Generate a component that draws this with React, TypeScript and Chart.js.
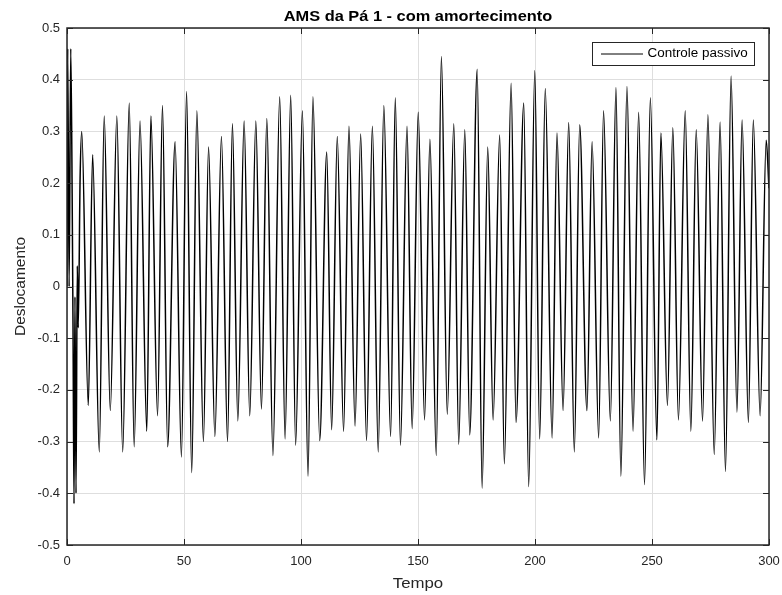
import { useEffect, useRef } from 'react';
import { Chart, registerables } from 'chart.js';

Chart.register(...registerables);

// ---- data ----
const startTimes = [0, 0.3, 0.9, 1.6, 2.2, 2.6, 3.0, 3.4, 3.85, 4.4, 4.8, 5.6];
const startValues = [0, 0.46, 0.0, 0.46, 0.18, -0.1, -0.42, -0.02, -0.4, 0.04, -0.08, 0.21];

const peakTimes = [
  6.3, 10.95, 15.9, 21.3, 26.6, 31.2, 35.85, 40.8, 46.2, 51.1, 55.5, 60.5, 66.0, 70.7,
  75.7, 80.7, 85.4, 90.9, 95.6, 100.6, 105.1, 111.0, 115.5, 120.5, 125.5, 130.5, 135.4,
  140.3, 145.3, 150.1, 155.1, 160.0, 165.3, 170.0, 175.3, 179.8, 184.9, 189.8, 195.2,
  199.9, 204.4, 209.4, 214.4, 219.1, 224.4, 229.3, 234.6, 239.3, 244.3, 249.3, 253.8,
  258.9, 264.2, 268.9, 273.9, 279.1, 283.8, 288.5, 293.3, 298.8,
];
const peakValues = [
  0.3, 0.255, 0.33, 0.33, 0.355, 0.32, 0.33, 0.35, 0.28, 0.377, 0.34, 0.27, 0.29, 0.315,
  0.32, 0.32, 0.325, 0.367, 0.37, 0.34, 0.367, 0.26, 0.29, 0.31, 0.295, 0.31, 0.35,
  0.365, 0.31, 0.337, 0.285, 0.445, 0.315, 0.303, 0.42, 0.27, 0.293, 0.393, 0.355,
  0.418, 0.383, 0.297, 0.317, 0.313, 0.28, 0.34, 0.385, 0.387, 0.337, 0.365, 0.297,
  0.307, 0.34, 0.303, 0.332, 0.318, 0.407, 0.322, 0.322, 0.283,
];

const troughTimes = [
  9.1, 13.8, 18.5, 23.8, 28.7, 34.1, 38.7, 43.0, 48.9, 53.3, 58.3, 63.2, 68.6, 73.0,
  78.1, 83.1, 88.0, 93.2, 97.7, 103.0, 108.0, 113.1, 118.2, 123.1, 128.0, 133.0, 138.3,
  142.5, 147.5, 152.8, 157.8, 162.5, 167.4, 172.1, 177.4, 182.1, 186.9, 191.9, 197.3,
  202.0, 207.3, 212.0, 216.8, 222.2, 227.2, 232.2, 236.7, 241.9, 246.8, 252.1, 256.6,
  261.3, 266.6, 271.6, 276.6, 281.4, 286.3, 291.2, 296.2,
];
const troughValues = [
  -0.23, -0.32, -0.24, -0.32, -0.31, -0.28, -0.25, -0.31, -0.33, -0.36, -0.3, -0.29, -0.3, -0.26,
  -0.25, -0.237, -0.327, -0.295, -0.307, -0.367, -0.298, -0.277, -0.28, -0.27, -0.298, -0.32, -0.29,
  -0.307, -0.275, -0.258, -0.327, -0.247, -0.305, -0.287, -0.39, -0.258, -0.343, -0.263, -0.387,
  -0.295, -0.293, -0.24, -0.32, -0.24, -0.293, -0.26, -0.367, -0.28, -0.383, -0.297, -0.23,
  -0.258, -0.28, -0.26, -0.325, -0.358, -0.243, -0.263, -0.25,
];

const endTimes = [300];
const endValues = [0.19];

const xTickValues = [0, 50, 100, 150, 200, 250, 300];
const yTickValues = [-0.5, -0.4, -0.3, -0.2, -0.1, 0, 0.1, 0.2, 0.3, 0.4, 0.5];

const titleText = 'AMS da Pá 1 - com amortecimento';
const xLabel = 'Tempo';
const yLabel = 'Deslocamento';
const seriesLabel = 'Controle passivo';

const FONT = '"Liberation Sans", Arial, Helvetica, sans-serif';
const AXIS_COLOR = '#262626';

function buildPoints() {
  const pts: { x: number; y: number }[] = [];
  const add = (ts: number[], vs: number[]) => ts.forEach((t, i) => pts.push({ x: t, y: vs[i] }));
  add(startTimes, startValues);
  add(peakTimes, peakValues);
  add(troughTimes, troughValues);
  add(endTimes, endValues);
  pts.sort((a, b) => a.x - b.x);
  return pts;
}

function stretchedText(ctx: CanvasRenderingContext2D, text: string, x: number, y: number, sx: number) {
  ctx.save();
  ctx.translate(x, y);
  ctx.scale(sx, 1);
  ctx.fillText(text, 0, 0);
  ctx.restore();
}

const decorPlugin = {
  id: 'matlabDecor',
  afterDraw(chart: any) {
    const { ctx, chartArea, scales } = chart;
    const { left, right, top, bottom } = chartArea;
    const xs = scales.x;
    const ys = scales.y;
    ctx.save();
    // frame
    ctx.strokeStyle = AXIS_COLOR;
    ctx.lineWidth = 1.5;
    ctx.strokeRect(left, top, right - left, bottom - top);
    // inward ticks
    ctx.lineWidth = 1;
    const tl = 6;
    ctx.beginPath();
    xTickValues.forEach((v) => {
      const px = Math.round(xs.getPixelForValue(v)) + 0.5;
      ctx.moveTo(px, bottom);
      ctx.lineTo(px, bottom - tl);
      ctx.moveTo(px, top);
      ctx.lineTo(px, top + tl);
    });
    yTickValues.forEach((v) => {
      const py = Math.round(ys.getPixelForValue(v)) + 0.5;
      ctx.moveTo(left, py);
      ctx.lineTo(left + tl, py);
      ctx.moveTo(right, py);
      ctx.lineTo(right - tl, py);
    });
    ctx.stroke();

    // title
    ctx.fillStyle = '#000';
    ctx.font = `bold 14px ${FONT}`;
    ctx.textAlign = 'center';
    ctx.textBaseline = 'alphabetic';
    stretchedText(ctx, titleText, (left + right) / 2, 21, 1.17);

    // x label
    ctx.fillStyle = AXIS_COLOR;
    ctx.font = `15px ${FONT}`;
    stretchedText(ctx, xLabel, (left + right) / 2, 588, 1.12);

    // y label
    ctx.save();
    ctx.translate(25, (top + bottom) / 2);
    ctx.rotate(-Math.PI / 2);
    ctx.font = `15.5px ${FONT}`;
    ctx.textBaseline = 'alphabetic';
    ctx.fillText(yLabel, 0, 0);
    ctx.restore();

    // legend
    const bx = 592.5, by = 42.5, bw = 162, bh = 23;
    ctx.fillStyle = '#fff';
    ctx.fillRect(bx, by, bw, bh);
    ctx.strokeStyle = AXIS_COLOR;
    ctx.lineWidth = 1;
    ctx.strokeRect(bx, by, bw, bh);
    ctx.strokeStyle = '#000';
    ctx.beginPath();
    ctx.moveTo(601, 54);
    ctx.lineTo(643, 54);
    ctx.stroke();
    ctx.fillStyle = '#000';
    ctx.font = `12px ${FONT}`;
    ctx.textAlign = 'left';
    ctx.textBaseline = 'middle';
    stretchedText(ctx, seriesLabel, 647.5, 54, 1.12);
    ctx.restore();
  },
};

export default function App() {
  const canvasRef = useRef<HTMLCanvasElement | null>(null);

  useEffect(() => {
    const canvas = canvasRef.current;
    if (!canvas) return;
    const chart = new Chart(canvas, {
      type: 'line',
      data: {
        datasets: [
          {
            label: seriesLabel,
            data: buildPoints(),
            borderColor: '#000',
            borderWidth: 1.5,
            pointRadius: 0,
            cubicInterpolationMode: 'monotone',
            fill: false,
          },
        ],
      },
      options: {
        responsive: false,
        animation: false,
        devicePixelRatio: 1,
        layout: { padding: { top: 28, right: 13, left: 0, bottom: 0 } },
        plugins: {
          legend: { display: false },
          title: { display: false },
          tooltip: { enabled: false },
        },
        scales: {
          x: {
            type: 'linear',
            min: 0,
            max: 300,
            afterBuildTicks: (s: any) => {
              s.ticks = xTickValues.map((v) => ({ value: v }));
            },
            afterFit: (s: any) => {
              s.height = 50;
              s.paddingLeft = 0;
              s.paddingRight = 0;
            },
            ticks: {
              color: AXIS_COLOR,
              font: { family: FONT, size: 13 },
              padding: 9,
              maxRotation: 0,
              callback: (v: any) => String(v),
            },
            grid: { color: '#dedede', lineWidth: 1, drawTicks: false },
            border: { display: false },
          },
          y: {
            type: 'linear',
            min: -0.5,
            max: 0.5,
            afterBuildTicks: (s: any) => {
              s.ticks = yTickValues.map((v) => ({ value: v }));
            },
            afterFit: (s: any) => {
              s.width = 67;
              s.paddingTop = 0;
              s.paddingBottom = 0;
            },
            ticks: {
              color: AXIS_COLOR,
              font: { family: FONT, size: 13 },
              padding: 7,
              callback: (v: any) => String(Number(Number(v).toFixed(1))),
            },
            grid: { color: '#dedede', lineWidth: 1, drawTicks: false },
            border: { display: false },
          },
        },
      },
      plugins: [decorPlugin],
    });
    return () => chart.destroy();
  }, []);

  return (
    <div style={{ position: 'absolute', left: 0, top: 0, width: 782, height: 595, background: '#fff' }}>
      <canvas ref={canvasRef} width={782} height={595} style={{ display: 'block' }} />
    </div>
  );
}
